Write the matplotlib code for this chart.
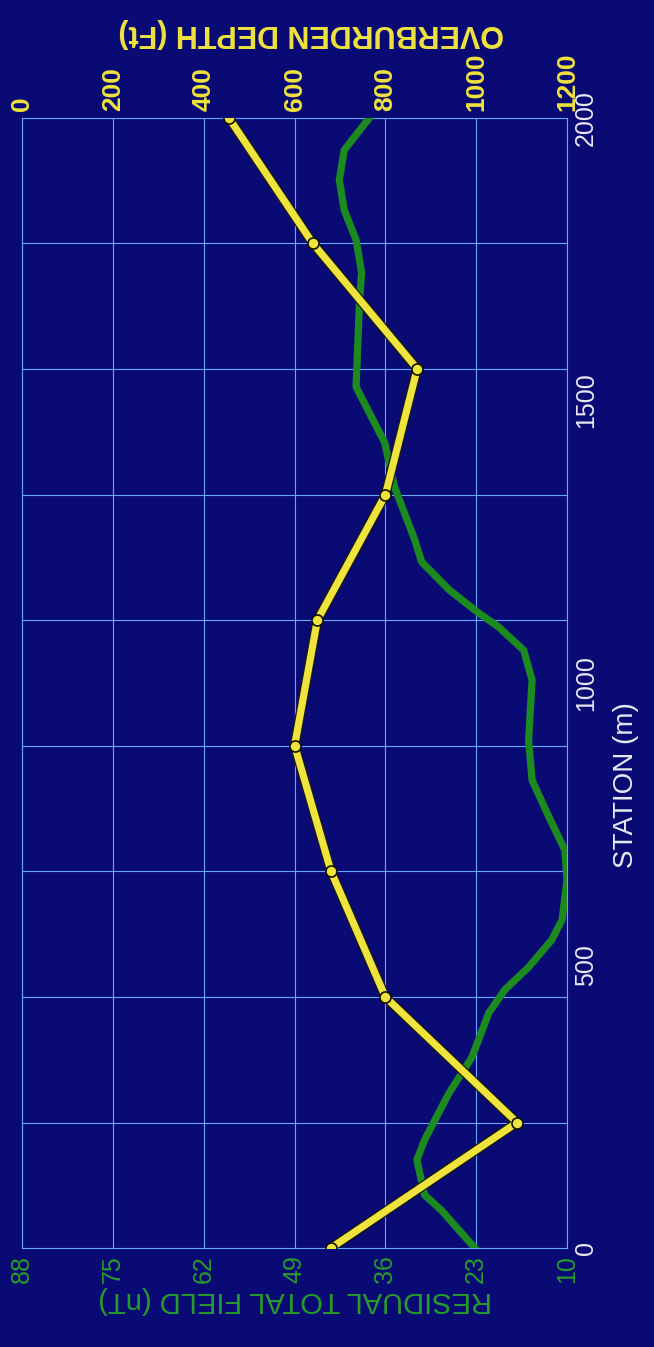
import numpy as np
import matplotlib.pyplot as plt
import matplotlib.patheffects as pe

plt.rcParams['font.family'] = ['Liberation Sans', 'DejaVu Sans']

# residual total field profile along the line
field_station = [0, 67, 94, 156, 191, 274, 338, 416, 457, 497, 545, 581, 651, 704,
                 763, 828, 899, 1005, 1058, 1099, 1126, 1165, 1214, 1253, 1347,
                 1425, 1524, 1678, 1726, 1784, 1837, 1890, 1943, 2000]
field_nt = [23.2, 28.0, 30.4, 31.5, 30.4, 26.9, 23.6, 21.2, 18.9, 15.5, 12.2, 10.7,
            10.0, 10.3, 12.6, 15.0, 15.5, 15.0, 16.2, 19.8, 22.9, 26.9, 30.8, 31.8,
            34.7, 36.1, 40.2, 39.7, 39.4, 40.2, 41.9, 42.6, 41.9, 38.3]

# overburden depth picks
depth_station = [0, 222, 444, 667, 889, 1111, 1333, 1556, 1778, 2000]
depth_ft = [680, 1090, 800, 680, 600, 650, 800, 870, 640, 455]

field_ticks = [88, 75, 62, 49, 36, 23, 10]
depth_ticks = [0, 200, 400, 600, 800, 1000, 1200]
station_ticks = [0, 500, 1000, 1500, 2000]

bg = '#0a0a74'
grid_col = '#66a8ff'
green = '#1d8a20'
green_txt = '#279c2a'
yellow = '#efe33e'
white = '#e8e8f4'

fig = plt.figure(figsize=(6.54, 13.47), dpi=100, facecolor=bg)
ax = fig.add_axes([0.034, 0.0735, 0.833, 0.839])
ax.set_facecolor(bg)

# field axis runs 88 -> 10 left to right
ax.set_xlim(88, 10)
ax.set_ylim(0, 2000)
ax.plot(field_nt, field_station, color=green, linewidth=5.2, zorder=3,
        solid_joinstyle='round')

ax.set_xticks(field_ticks)
ax.set_xticklabels([str(t) for t in field_ticks], rotation=90, color=green_txt, fontsize=18)
ax.set_yticks(station_ticks)
ax.set_yticklabels([str(t) for t in station_ticks], rotation=90, va='center',
                   color=white, fontsize=18)
ax.set_yticks(depth_station, minor=True)
ax.yaxis.tick_right()
ax.tick_params(which='both', length=0, pad=5)
ax.grid(True, axis='x', color=grid_col, linewidth=0.8)
ax.grid(True, axis='y', which='minor', color=grid_col, linewidth=0.8)
ax.set_axisbelow(True)
for s in ax.spines.values():
    s.set_color(grid_col)
    s.set_linewidth(0.8)

ax.set_xlabel('RESIDUAL TOTAL FIELD (nT)', rotation=180, color=green_txt,
              fontsize=21, labelpad=2)
ax.yaxis.set_label_position('right')
ax.set_ylabel('STATION (m)', rotation=90, color=white, fontsize=20)
ax.yaxis.set_label_coords(1.085, 0.41)

# overburden depth on the top axis
ax2 = ax.twiny()
ax2.set_xlim(0, 1200)
ax2.plot(depth_ft, depth_station, color=yellow, linewidth=5.2, zorder=4,
         solid_joinstyle='round',
         path_effects=[pe.Stroke(linewidth=7, foreground='#1a1a08'), pe.Normal()])
ax2.plot(depth_ft, depth_station, linestyle='none', marker='o', markersize=8,
         markerfacecolor=yellow, markeredgecolor='#111100', markeredgewidth=1.2, zorder=5)
ax2.set_xticks(depth_ticks)
ax2.set_xticklabels([str(t) for t in depth_ticks], rotation=90, color=yellow,
                    fontsize=19, fontweight='bold')
ax2.tick_params(length=0, pad=5)
for s in ax2.spines.values():
    s.set_visible(False)
ax2.set_xlabel('OVERBURDEN DEPTH (Ft)', rotation=180, color=yellow,
               fontsize=22, fontweight='bold')
ax2.xaxis.set_label_coords(0.53, 1.068)

fig.savefig('out.png', dpi=100, facecolor=bg)
